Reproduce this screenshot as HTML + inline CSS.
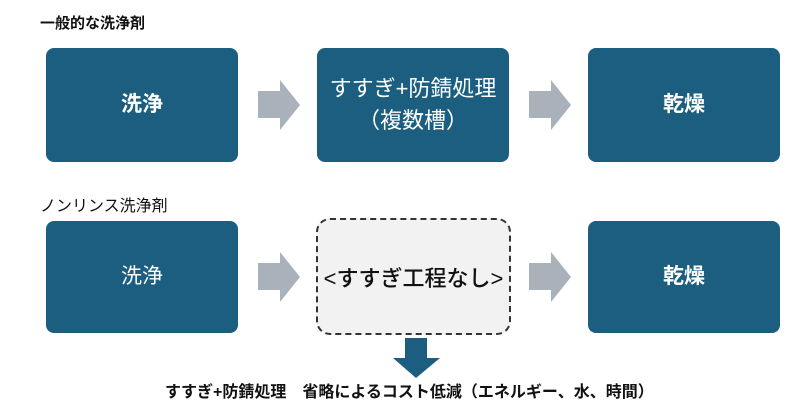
<!DOCTYPE html>
<html><head><meta charset="utf-8"><style>
body{margin:0;width:800px;height:408px;background:#fff;position:relative;overflow:hidden;font-family:"Liberation Sans","Noto Sans CJK JP",sans-serif}
.t{position:absolute;font-weight:bold;color:#111;white-space:nowrap}
.b{position:absolute;background:#1b5e7f;border-radius:8px;color:#fff;display:flex;align-items:center;justify-content:center;text-align:center;font-weight:bold;font-size:21px;line-height:32px}
.d{position:absolute;background:#f2f2f2;border:2px dashed #333;border-radius:14px;display:flex;align-items:center;justify-content:center;font-size:22px;color:#111;box-sizing:border-box;font-weight:500}
svg{position:absolute;left:0;top:0}
</style></head><body>
<div class="t" style="left:40px;top:12px;font-size:15px">一般的な洗浄剤</div>
<div class="t" style="left:40px;top:192px;font-size:16px;font-weight:normal">ノンリンス洗浄剤</div>
<div class="b" style="left:46px;top:48px;width:192px;height:114px">洗浄</div>
<div class="b" style="left:317px;top:48px;width:192px;height:114px;font-weight:normal;font-size:22px">すすぎ+防錆処理<br>（複数槽）</div>
<div class="b" style="left:588px;top:48px;width:192px;height:114px">乾燥</div>
<div class="b" style="left:46px;top:221px;width:192px;height:112px;font-weight:normal">洗浄</div>
<div class="d" style="left:316px;top:218px;width:195px;height:117px">&lt;すすぎ工程なし&gt;</div>
<div class="b" style="left:588px;top:221px;width:192px;height:112px">乾燥</div>
<svg width="800" height="408">
<g fill="#a9b1ba">
<polygon points="258,91 280,91 280,80 300,105 280,130 280,118 258,118"/>
<polygon points="529,91 551,91 551,80 571,105 551,130 551,118 529,118"/>
<polygon points="258,263 280,263 280,252 300,277 280,302 280,290 258,290"/>
<polygon points="529,263 551,263 551,252 571,277 551,302 551,290 529,290"/>
</g>
<polygon fill="#1b5e7f" points="405,338 427,338 427,358 440,358 416,378 393,358 405,358"/>
</svg>
<div class="t" style="left:165px;top:378px;font-size:16px">すすぎ+防錆処理　省略によるコスト低減（エネルギー、水、時間）</div>
</body></html>
